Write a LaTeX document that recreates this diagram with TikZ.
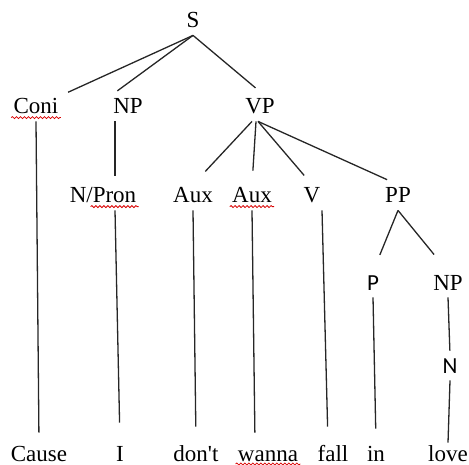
\documentclass[tikz,border=0pt]{standalone}
\usepackage{fontspec}
\setmainfont{Liberation Serif}[Ligatures=TeXOff]
\newfontfamily\calibri{Carlito}
\usetikzlibrary{decorations.pathmorphing}

\begin{document}
\begin{tikzpicture}[
    x=0.5pt, y=-0.5pt, % one unit = one pixel, y down
    cat/.style={inner sep=1pt, text height=8pt, text depth=2.5pt, anchor=base, font=\fontsize{11.5}{13}\selectfont},
    sanscat/.style={cat, font=\fontsize{11.5}{13}\selectfont\calibri},
    word/.style={cat},
    branch/.style={draw=black!85, line width=0.65pt},
    spell/.style={draw=red!85!black, line width=0.4pt, decorate, decoration={snake, amplitude=0.5pt, segment length=2pt}}
]
    \useasboundingbox (0,0) rectangle (469,464);

    % categories
    \node[cat] (s) at (193,28) {S};
    \node[cat] (coni) at (36,114) {Coni};
    \node[cat] (np) at (128,114) {NP};
    \node[cat] (vp) at (260,114) {VP};
    \node[cat] (pron) at (103,203) {N/Pron};
    \node[cat] (aux1) at (193,203) {Aux};
    \node[cat] (aux2) at (252,203) {Aux};
    \node[cat] (v) at (312,203) {V};
    \node[cat] (pp) at (398,203) {PP};
    \node[sanscat] (p) at (373,290) {P};
    \node[cat] (np2) at (448,290) {NP};
    \node[sanscat] (n) at (450,373) {N};

    % words
    \node[word] (cause) at (39,461) {Cause};
    \node[word] (i) at (120,461) {I};
    \node[word] (dont) at (196,461) {don't};
    \node[word] (wanna) at (268,461) {wanna};
    \node[word] (fall) at (333,461) {fall};
    \node[word] (in) at (376,461) {in};
    \node[word] (love) at (448,461) {love};

    % branches
    \draw[branch, shorten >=4pt] (s.south) -- (coni.north east);
    \draw[branch, shorten >=4pt] (s.south) -- (np.north west);
    \draw[branch, shorten >=6pt] (s.south) -- (vp.70);
    \draw[branch] ([xshift=-6.5pt]np.south) -- ([xshift=6pt,yshift=4.5pt]pron.north);
    \draw[branch, shorten >=9pt] ([xshift=-4pt]vp.south) -- (aux1.north);
    \draw[branch, shorten >=7pt] ([xshift=-2pt]vp.south) -- (aux2.north);
    \draw[branch, shorten >=6pt] ([xshift=-1pt]vp.south) -- (v.north);
    \draw[branch, shorten >=6pt] ([xshift=-1pt]vp.south) -- (pp.north);
    \draw[branch, shorten >=9pt] (pp.south) -- (p.north);
    \draw[branch, shorten >=11pt] (pp.south) -- (np2.north);
    \draw[branch, shorten >=2pt] (np2.south) -- (n.north);

    % down to the words
    \draw[branch, shorten >=5pt] (coni.south) -- (cause.north);
    \draw[branch, shorten >=10pt] ([xshift=6pt]pron.south) -- (i.north);
    \draw[branch, shorten >=8pt] (aux1.south) -- (dont.north);
    \draw[branch, shorten >=5pt] (aux2.south) -- ([xshift=-6.5pt]wanna.north);
    \draw[branch, shorten >=8pt] ([xshift=5pt]v.south) -- ([xshift=-2.5pt]fall.north);
    \draw[branch, shorten >=7pt] (p.south) -- (in.north);
    \draw[branch] (n.south) -- (love.north);

    % spelling marks
    \draw[spell] ([yshift=-1.8pt]coni.base west) -- ([yshift=-1.8pt]coni.base east);
    \draw[spell] ([xshift=-24pt,yshift=-1.8pt]pron.base east) -- ([yshift=-1.8pt]pron.base east);
    \draw[spell] ([yshift=-1.8pt]aux2.base west) -- ([yshift=-1.8pt]aux2.base east);
    \draw[spell] ([yshift=-1.5pt]wanna.base west) -- ([yshift=-1.5pt]wanna.base east);
\end{tikzpicture}
\end{document}
